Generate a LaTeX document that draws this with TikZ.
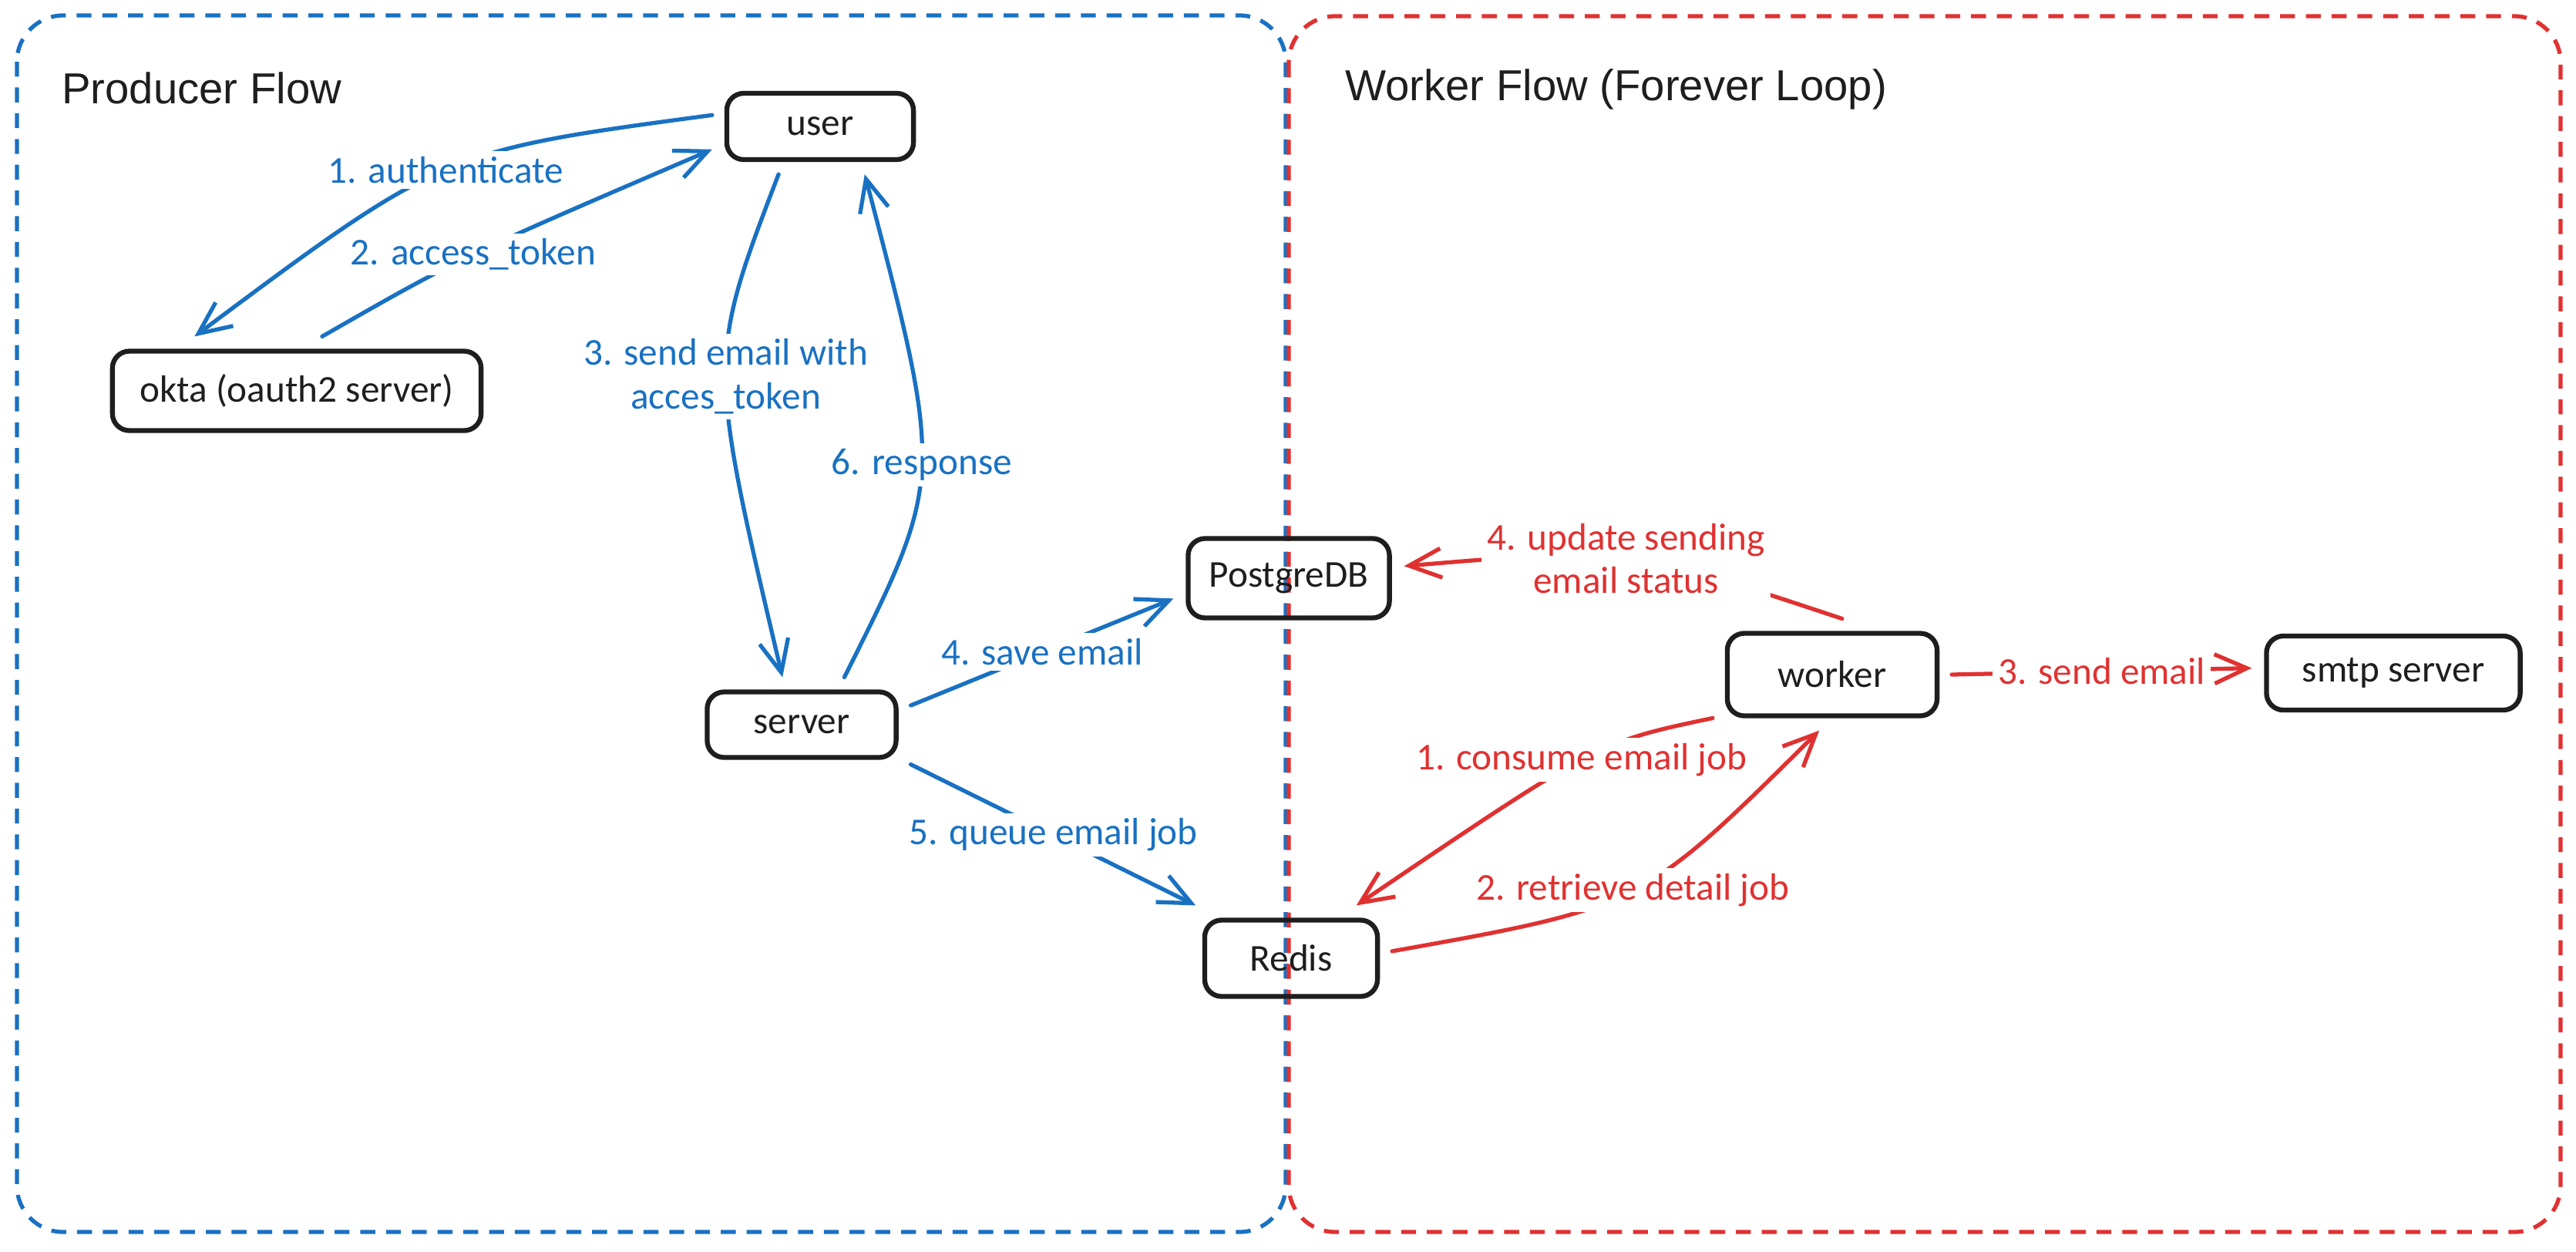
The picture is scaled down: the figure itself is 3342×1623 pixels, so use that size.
\documentclass[tikz,border=0pt]{standalone}
\usepackage{fontspec}
\setmainfont{Carlito}
\newfontfamily\headfont{Liberation Sans}
\usetikzlibrary{arrows.meta}
\definecolor{flowblue}{HTML}{1971C2}
\definecolor{flowred}{HTML}{E03131}
\definecolor{ink}{HTML}{1E1E1E}
\begin{document}
\begin{tikzpicture}[x=0.01cm,y=-0.01cm,
    box/.style={draw=ink,line width=1.8pt,rounded corners=0.22cm,inner sep=0pt,
      outer sep=0.19cm,text=ink,font=\fontsize{14}{16}\selectfont},
    frame/.style={line width=1.5pt,dash pattern=on 5.5pt off 4pt,rounded corners=0.6cm},
    title/.style={anchor=base west,text=ink,font=\headfont\fontsize{16}{19}\selectfont},
    flow/.style={line width=1.5pt,line cap=round,-{Straight Barb[length=0.42cm,width=0.38cm]}},
    tag/.style={pos=0.5,fill=white,inner sep=2pt,align=center,font=\fontsize{14}{16}\selectfont}]
  \fill[white] (0,0) rectangle (3342,1623);
  \draw[frame,flowblue] (22,20) rectangle (1668,1598);
  \draw[frame,flowred] (1672,21) rectangle (3322,1598);
  \path
    (68,134) node[title] (producer){Producer Flow}
    (1733,130) node[title] (workerflow){Worker Flow (Forever Loop)};
  \path
    (1064,164) node[box,minimum width=2.42cm,minimum height=0.86cm] (user){user}
    (385,507) node[box,minimum width=4.78cm,minimum height=1.03cm] (okta){okta (oauth2 server)}
    (1040,940) node[box,minimum width=2.45cm,minimum height=0.85cm] (server){server}
    (1672,750) node[box,minimum width=2.61cm,minimum height=1.03cm] (pg){PostgreDB}
    (1675,1243) node[box,minimum width=2.24cm,minimum height=0.99cm] (redis){Redis}
    (2377,875) node[box,minimum width=2.72cm,minimum height=1.07cm] (worker){worker}
    (3105,873) node[box,minimum width=3.29cm,minimum height=0.96cm] (smtp){smtp server};
  \begin{scope}[flow,flowblue,text=flowblue]
    \draw (user.174) .. controls (575,196) .. node[tag]{1. authenticate} (okta.152);
    \draw (okta.65) .. controls (595,335) .. node[tag]{2. access\_token} (user.192);
    \draw (user.229) .. controls (918,467) .. node[tag]{3. send email with\\acces\_token} (server.112);
    \draw (server.48) .. controls (1225,620) .. node[tag]{6. response} (user.313);
    \draw (server.10) -- node[tag]{4. save email} (pg.190);
    \draw (server.340) -- node[tag]{5. queue email job} (redis.151);
  \end{scope}
  \begin{scope}[flow,flowred,text=flowred]
    \draw (worker.80) .. controls (2111,710) .. node[tag]{4. update sending\\email status} (pg.6);
    \draw (worker.east) -- node[tag]{3. send email} (smtp.178);
    \draw (worker.200) .. controls (2072,963) .. node[tag]{1. consume email job} (redis.39);
    \draw (redis.4) .. controls (2130,1176) .. node[tag]{2. retrieve detail job} (worker.257);
  \end{scope}
\end{tikzpicture}
\end{document}
